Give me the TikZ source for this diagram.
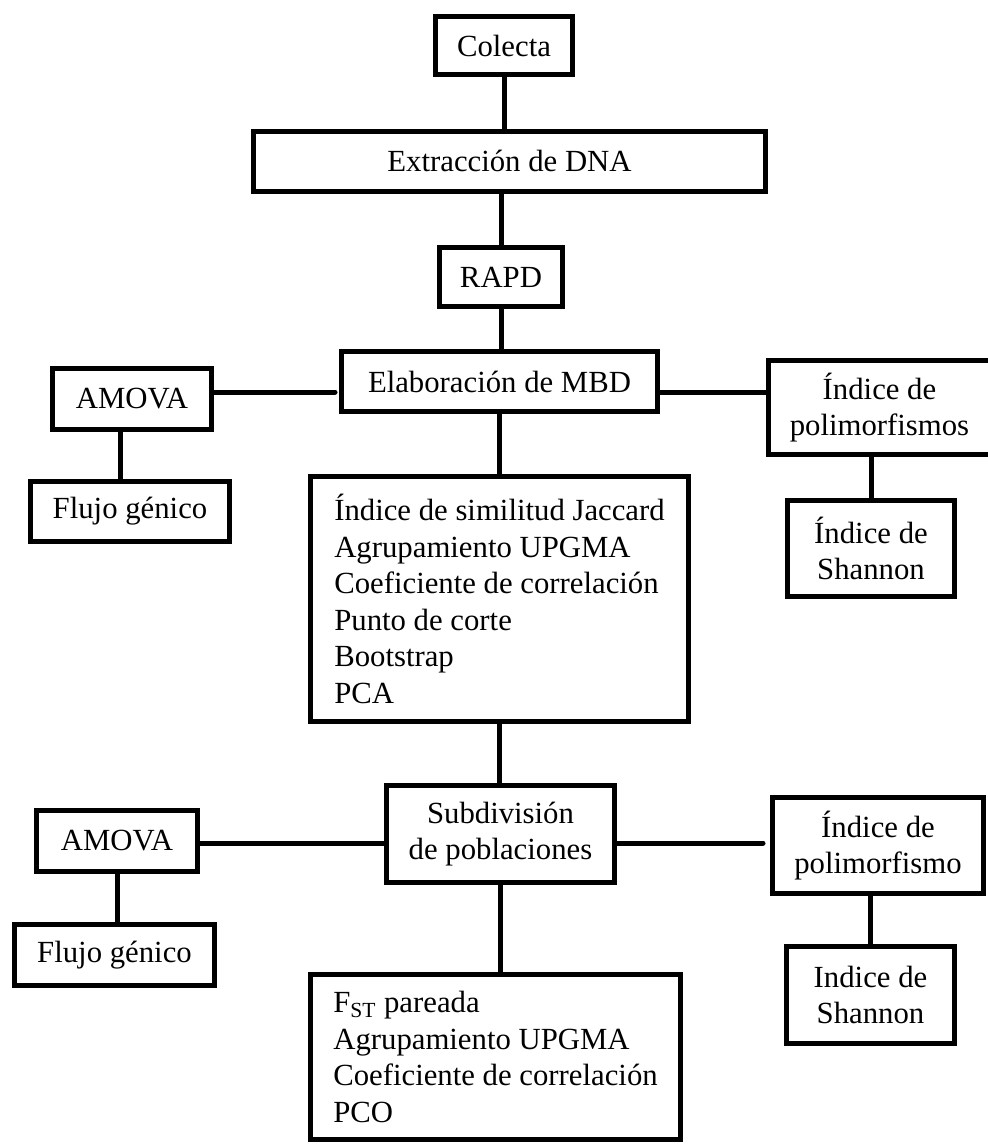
\documentclass[tikz,border=0pt]{standalone}
\usepackage{fontspec}
\setmainfont{Liberation Serif}
\usetikzlibrary{positioning}

\begin{document}
\begin{tikzpicture}[x=0.02cm, y=-0.02cm,
  box/.style={draw, line width=0.1cm, inner sep=0pt, align=center, font=\fontsize{17.5}{20.8}\selectfont},
  link/.style={line width=0.1cm, line cap=round}]

\useasboundingbox (0,0) rectangle (988,1144);

\node[box, minimum width=2.74cm, minimum height=1.16cm] (colecta) at (504,45.5) {Colecta};
\node[box, minimum width=10.24cm, minimum height=1.2cm] (extraccion) at (509.5,161) {Extracción de DNA};
\node[box, minimum width=2.46cm, minimum height=1.18cm] (rapd) at (501,277) {RAPD};
\node[box, minimum width=6.32cm, minimum height=1.2cm] (mbd) at (499.5,381.5) {Elaboración de MBD};

\node[box, minimum width=3.18cm, minimum height=1.22cm] (amovaA) at (132,399) {AMOVA};
\node[box, minimum width=3.98cm, minimum height=1.2cm] (flujoA) at (130,511.5) {Flujo génico};
\node[box, minimum width=4.44cm, minimum height=1.88cm] (polimA) at (879.5,407.5) {Índice de\\polimorfismos};
\node[box, minimum width=3.34cm, minimum height=1.92cm] (shannonA) at (871,548.5) {Índice de\\Shannon};

\node[box, align=left, minimum width=7.56cm, minimum height=4.9cm] (analisis) at (499.5,599) {Índice de similitud Jaccard\\Agrupamiento UPGMA\\Coeficiente de correlación\\Punto de corte\\Bootstrap\\PCA};

\node[box, minimum width=4.56cm, minimum height=1.94cm] (subdiv) at (500.5,834) {Subdivisión\\de poblaciones};

\node[box, minimum width=3.22cm, minimum height=1.22cm] (amovaB) at (117,841) {AMOVA};
\node[box, minimum width=4.0cm, minimum height=1.22cm] (flujoB) at (114.5,955) {Flujo génico};
\node[box, minimum width=4.22cm, minimum height=1.92cm] (polimB) at (878,845.5) {Índice de\\polimorfismo};
\node[box, minimum width=3.36cm, minimum height=1.94cm] (shannonB) at (870.5,995) {Indice de\\Shannon};

\node[box, align=left, minimum width=7.4cm, minimum height=3.3cm] (pareado) at (495.5,1057) {F\textsubscript{ST} pareada\\Agrupamiento UPGMA\\Coeficiente de correlación\\PCO};

\draw[link] (colecta.south) -- (colecta.south |- extraccion.north);
\draw[link] (rapd.north |- extraccion.south) -- (rapd.north);
\draw[link] (rapd.south) -- (rapd.south |- mbd.north);
\draw[link, shorten >=0.08cm] ([yshift=-0.21cm]mbd.west -| amovaA.east) -- ([yshift=-0.21cm]mbd.west);
\draw[link] ([yshift=-0.21cm]mbd.east) -- ([yshift=-0.21cm]mbd.east -| polimA.west);
\draw[link] ([xshift=-0.24cm]amovaA.south) -- ([xshift=-0.24cm]amovaA.south |- flujoA.north);
\draw[link] (shannonA.north |- polimA.south) -- (shannonA.north);
\draw[link] (mbd.south) -- (mbd.south |- analisis.north);
\draw[link] (analisis.south) -- (analisis.south |- subdiv.north);

\draw[link] ([yshift=-0.18cm]subdiv.west) -- ([yshift=-0.18cm]subdiv.west -| amovaB.east);
\draw[link, shorten >=0.14cm] ([yshift=-0.18cm]subdiv.east) -- ([yshift=-0.18cm]subdiv.east -| polimB.west);
\draw[link] (amovaB.south) -- (amovaB.south |- flujoB.north);
\draw[link] (shannonB.north |- polimB.south) -- (shannonB.north);
\draw[link] (subdiv.south) -- (subdiv.south |- pareado.north);

\end{tikzpicture}
\end{document}
